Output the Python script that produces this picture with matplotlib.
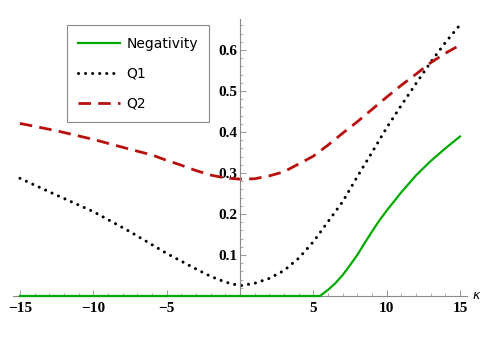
import matplotlib
matplotlib.use("Agg")
import matplotlib.pyplot as plt

# values
q1_x = [-15, -12.5, -10, -7.5, -5, -4, -3, -2, -1, 0, 1, 2, 3, 4, 5, 6, 7, 8, 9, 10, 11, 12, 13, 14, 15]
q1_y = [0.287, 0.246, 0.206, 0.157, 0.104, 0.085, 0.066, 0.048, 0.034, 0.025, 0.031, 0.043, 0.062,
        0.092, 0.132, 0.181, 0.230, 0.291, 0.350, 0.410, 0.465, 0.518, 0.570, 0.618, 0.661]

q2_x = [-15, -12.5, -10, -7.5, -6, -5, -4, -3, -2, -1, 0, 1, 2, 3, 4, 5, 6, 7, 8, 9, 10, 11, 12, 13, 14, 15]
q2_y = [0.421, 0.403, 0.382, 0.358, 0.344, 0.331, 0.319, 0.306, 0.295, 0.288, 0.285, 0.286, 0.293, 0.303,
        0.322, 0.341, 0.368, 0.397, 0.425, 0.455, 0.485, 0.514, 0.541, 0.569, 0.592, 0.612]

neg_x = [-15, 5.45, 6, 6.5, 7, 7.5, 8, 8.5, 9, 9.5, 10, 11, 12, 13, 14, 15]
neg_y = [0, 0, 0.015, 0.031, 0.051, 0.075, 0.100, 0.129, 0.157, 0.184, 0.208, 0.253, 0.294, 0.329,
         0.360, 0.389]

x_ticks = [-15, -10, -5, 5, 10, 15]
y_ticks = [0.1, 0.2, 0.3, 0.4, 0.5, 0.6]

fig = plt.figure(figsize=(4.98, 3.39), dpi=100)
ax = fig.add_axes([0.0253, 0.1268, 0.913, 0.8164])

ax.plot(neg_x, neg_y, color="#00aa00", lw=1.6, label="Negativity", clip_on=False, zorder=3)
ax.plot(q1_x, q1_y, color="black", lw=2.2, linestyle=(0, (0.01, 2.3)),
        dash_capstyle="round", label="Q1", clip_on=False)
ax.plot(q2_x, q2_y, color="#b80f0f", lw=2.0, linestyle=(0, (4.5, 2.6)), label="Q2", clip_on=False)

ax.set_xlim(-15.5, 15.5)
ax.set_ylim(0, 0.675)

for s in ["top", "right"]:
    ax.spines[s].set_visible(False)
ax.spines["left"].set_position(("data", 0))
ax.spines["bottom"].set_position(("data", 0))
for s in ["left", "bottom"]:
    ax.spines[s].set_color("#8a8a8a")
    ax.spines[s].set_linewidth(0.8)

ax.set_xticks(x_ticks)
ax.set_yticks(y_ticks)
ax.set_xticks(range(-15, 16), minor=True)
ax.set_yticks([i * 0.02 for i in range(1, 34)], minor=True)
ax.set_yticklabels([f"{v:.1f}" for v in y_ticks])
ax.set_xticklabels([str(v).replace("-", "\u2212") for v in x_ticks])
ax.tick_params(which="major", direction="in", length=4, width=0.6, color="#8a8a8a", pad=2)
ax.tick_params(which="minor", direction="in", length=2, width=0.5, color="#8a8a8a")
ax.tick_params(axis="x", pad=4)
for lab in ax.get_xticklabels() + ax.get_yticklabels():
    lab.set_family("Liberation Serif")
    lab.set_fontweight("bold")
    lab.set_fontsize(11)

ax.annotate("\u03ba", xy=(1, 0), xycoords="axes fraction", xytext=(3.5, 0.5),
            textcoords="offset points", fontsize=9, style="italic",
            family="DejaVu Sans", va="center", ha="left")

leg = ax.legend(loc="upper left", bbox_to_anchor=(0.1345, 0.925),
                bbox_transform=fig.transFigure, fontsize=10, handlelength=3.0,
                handletextpad=0.5, labelspacing=1.15, borderpad=0.8, borderaxespad=0,
                fancybox=False, framealpha=1)
leg.get_frame().set_edgecolor("#8a8a8a")
leg.get_frame().set_linewidth(0.8)

fig.savefig("out.png", dpi=100)
